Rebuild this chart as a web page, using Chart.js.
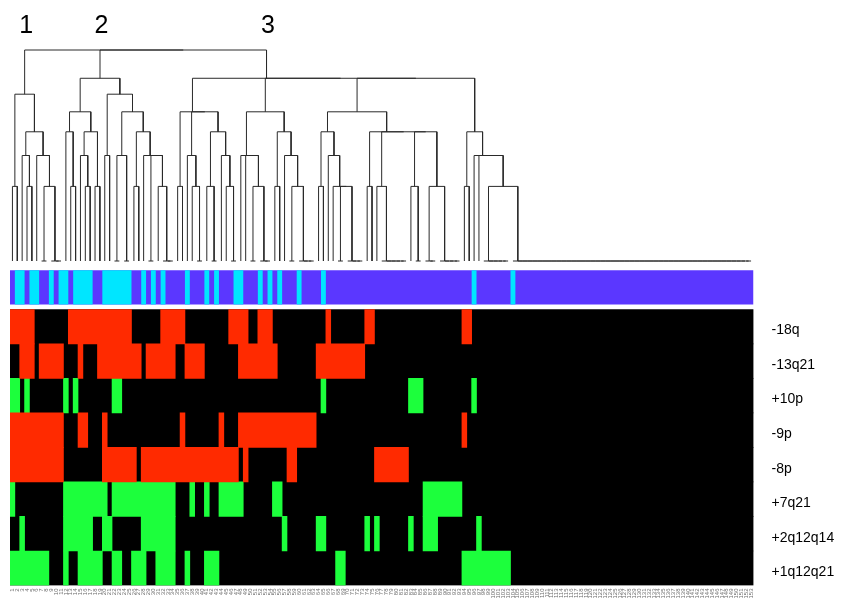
<!DOCTYPE html>
<html>
<head>
<meta charset="utf-8">
<title>Copy-number profile clusters</title>
<script src="https://cdn.jsdelivr.net/npm/chart.js@4.4.1/dist/chart.umd.min.js"></script>
<style>
  html, body { margin: 0; padding: 0; background: #fff; }
  canvas { display: block; }
</style>
</head>
<body>
<canvas id="cnaHeatmap" width="845" height="607"></canvas>
<script>
// Samples run left to right in dendrogram order
const sampleCount = 153;
const sampleIds = Array.from({ length: sampleCount }, (_, i) => String(i + 1));

const alterationRows = ['-18q', '-13q21', '+10p', '-9p', '-8p', '+7q21', '+2q12q14', '+1q12q21'];

// Altered samples per row as [first, end) runs of sample positions
const del18q = [[0, 5], [12, 25], [31, 36], [45, 49], [51, 54], [65, 66], [73, 75], [93, 95]];
const del13q21 = [[2, 5], [6, 11], [14, 15], [18, 27], [28, 34], [36, 40], [47, 55], [63, 73]];
const gain10p = [[0, 2], [3, 4], [11, 12], [13, 14], [21, 23], [64, 65], [82, 85], [95, 96]];
const del9p = [[0, 11], [14, 16], [19, 20], [35, 36], [43, 44], [47, 63], [93, 94]];
const del8p = [[0, 11], [19, 26], [27, 47], [48, 49], [57, 59], [75, 82]];
const gain7q21 = [[0, 1], [11, 20], [21, 34], [37, 38], [40, 41], [43, 48], [54, 56], [85, 93]];
const gain2q12q14 = [[2, 3], [11, 17], [19, 21], [27, 34], [56, 57], [63, 65], [73, 74], [75, 76], [82, 83], [85, 88], [96, 97]];
const gain1q12q21 = [[0, 8], [11, 12], [14, 19], [21, 23], [25, 28], [30, 34], [36, 37], [40, 43], [67, 69], [93, 103]];

const rowRuns = [del18q, del13q21, gain10p, del9p, del8p, gain7q21, gain2q12q14, gain1q12q21];
const rowIsGain = [false, false, true, false, false, true, true, true];

// Samples of the second subtype in the annotation strip
const subtypeRuns = [[1, 3], [4, 6], [8, 9], [10, 12], [13, 17], [19, 25], [27, 28], [29, 30], [31, 32], [36, 37],
  [40, 41], [42, 43], [46, 48], [51, 52], [53, 54], [55, 56], [59, 60], [64, 65], [95, 96], [103, 104]];

const COLORS = {
  loss: '#ff2a00',
  gain: '#1cff3c',
  none: '#000000',
  subtypeA: '#5b37ff',
  subtypeB: '#00e6ff',
  tree: '#2a2a2a'
};

// 0/1 profile of every sample over the eight alterations
const profiles = Array.from({ length: sampleCount }, () => alterationRows.map(() => 0));
rowRuns.forEach((runs, r) => {
  runs.forEach(([a, b]) => { for (let c = a; c < b; c++) profiles[c][r] = 1; });
});

function hamming(p, q) {
  let d = 0;
  for (let k = 0; k < p.length; k++) if (p[k] !== q[k]) d++;
  return d;
}

function completeLinkage(a, b) {
  let d = 0;
  for (const i of a.members) for (const j of b.members) d = Math.max(d, hamming(profiles[i], profiles[j]));
  return d;
}

// Complete-linkage clustering (euclidean on 0/1 profiles), merging neighbours in sample order
function buildTree() {
  let nodes = profiles.map((_, i) => ({ members: [i], x: i + 0.5, h: 0, children: null }));
  const links = [];
  while (nodes.length > 1) {
    let best = 0, bestD = Infinity;
    for (let i = 0; i < nodes.length - 1; i++) {
      const d = completeLinkage(nodes[i], nodes[i + 1]);
      if (d <= bestD) { bestD = d; best = i; }
    }
    const l = nodes[best], r = nodes[best + 1];
    const h = Math.sqrt(bestD);
    const node = { members: l.members.concat(r.members), x: (l.x + r.x) / 2, h, children: [l, r] };
    links.push({ x: l.x, y: l.h }, { x: l.x, y: h }, { x: r.x, y: h }, { x: r.x, y: r.h }, { x: r.x, y: NaN });
    nodes.splice(best, 2, node);
  }
  return { root: nodes[0], links };
}

const tree = buildTree();

// Top three clusters for the numbered labels
function cutTree(root, k) {
  let groups = [root];
  while (groups.length < k) {
    let idx = -1;
    groups.forEach((g, i) => { if (g.children && (idx < 0 || g.h > groups[idx].h)) idx = i; });
    if (idx < 0) break;
    groups.splice(idx, 1, ...groups[idx].children);
  }
  return groups;
}
const clusters = cutTree(tree.root, 3);

function runsToBars(runs, label) {
  return runs.map(([a, b]) => ({ y: label, x: [a, b] }));
}

const lossBars = [], gainBars = [], emptyBars = [];
alterationRows.forEach((label, r) => {
  (rowIsGain[r] ? gainBars : lossBars).push(...runsToBars(rowRuns[r], label));
  emptyBars.push({ y: label, x: [0, sampleCount] });
});

const heatBar = {
  type: 'bar', indexAxis: 'y', xAxisID: 'x', yAxisID: 'yHeat',
  grouped: false, barPercentage: 1, categoryPercentage: 1, borderWidth: 0
};
const stripBar = {
  type: 'bar', indexAxis: 'y', xAxisID: 'x', yAxisID: 'yStrip',
  grouped: false, barPercentage: 0.783, categoryPercentage: 1, borderWidth: 0
};

// keep label overhang from shifting the plotting area
function noOverhang(scale) {
  scale.paddingLeft = 0;
  scale.paddingRight = 0;
  scale.paddingTop = 0;
  scale.paddingBottom = 0;
  if (scale._margins) {
    scale._margins.left = 0;
    scale._margins.right = 0;
    scale._margins.top = 0;
    scale._margins.bottom = 0;
  }
}

const clusterNumbers = {
  id: 'clusterNumbers',
  afterDatasetsDraw(chart) {
    const { ctx, scales: { x, yTree } } = chart;
    ctx.save();
    ctx.font = '25px Arial, "Liberation Sans", sans-serif';
    ctx.fillStyle = '#000';
    ctx.textAlign = 'center';
    ctx.textBaseline = 'alphabetic';
    clusters.forEach((g, i) => {
      ctx.fillText(String(i + 1), x.getPixelForValue(g.x) + 1.5, yTree.top - 17);
    });
    ctx.restore();
  }
};

Chart.defaults.font.family = 'Arial, "Liberation Sans", sans-serif';

new Chart(document.getElementById('cnaHeatmap'), {
  type: 'bar',
  data: {
    datasets: [
      {
        type: 'line', xAxisID: 'x', yAxisID: 'yTree', data: tree.links,
        borderColor: COLORS.tree, borderWidth: 1, pointRadius: 0, tension: 0,
        spanGaps: false, fill: false, clip: false, order: 0
      },
      { ...heatBar, data: lossBars, backgroundColor: COLORS.loss, order: 1 },
      { ...heatBar, data: gainBars, backgroundColor: COLORS.gain, order: 1 },
      { ...heatBar, data: emptyBars, backgroundColor: COLORS.none, order: 2 },
      { ...stripBar, data: runsToBars(subtypeRuns, 'subtype'), backgroundColor: COLORS.subtypeB, order: 1 },
      { ...stripBar, data: [{ y: 'subtype', x: [0, sampleCount] }], backgroundColor: COLORS.subtypeA, order: 2 }
    ]
  },
  options: {
    responsive: false,
    animation: false,
    devicePixelRatio: 1,
    layout: { padding: { left: 10, top: 50, right: 0, bottom: 0 } },
    plugins: { legend: { display: false }, tooltip: { enabled: false } },
    scales: {
      x: {
        type: 'linear', position: 'bottom', min: 0, max: sampleCount, offset: false,
        grid: { display: false, drawTicks: false, offset: false }, border: { display: false },
        ticks: {
          autoSkip: false, minRotation: 90, maxRotation: 90, padding: 3,
          color: '#6e6e6e', font: { size: 6 },
          callback: (value, index) => sampleIds[index]
        },
        afterBuildTicks: scale => { scale.ticks = sampleIds.map((_, i) => ({ value: i + 0.5 })); },
        afterFit: scale => { noOverhang(scale); scale.height = 21.5; }
      },
      yTree: {
        type: 'linear', axis: 'y', position: 'right', stack: 'panels', stackWeight: 215.5,
        min: -0.0603, max: Math.sqrt(8), display: false,
        afterFit: noOverhang
      },
      yStrip: {
        type: 'category', axis: 'y', position: 'right', stack: 'panels', stackWeight: 43.8,
        labels: ['subtype'], offset: true, display: false,
        afterFit: noOverhang
      },
      yHeat: {
        type: 'category', axis: 'y', position: 'right', stack: 'panels', stackWeight: 276.2,
        labels: alterationRows, offset: true,
        grid: { display: false, drawTicks: false }, border: { display: false },
        ticks: { autoSkip: false, color: '#000', font: { size: 14 }, padding: 18, labelOffset: 4 },
        afterFit: scale => { noOverhang(scale); scale.width = 91.5; }
      }
    }
  },
  plugins: [clusterNumbers]
});
</script>
</body>
</html>
